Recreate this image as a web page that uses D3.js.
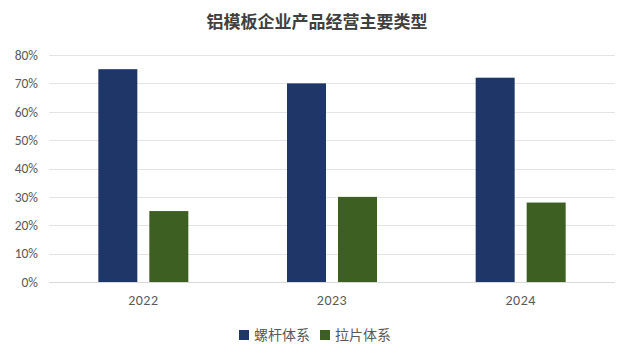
<!DOCTYPE html>
<html><head><meta charset="utf-8">
<script src="https://cdn.jsdelivr.net/npm/d3@7/dist/d3.min.js"></script>
<style>body{margin:0;background:#fff;}svg{display:block;}</style>
</head><body>
<script>
const categories = ["2022", "2023", "2024"];
const seriesNames = ["螺杆体系", "拉片体系"];
const screwValues = [0.75, 0.70, 0.72];
const pullValues = [0.25, 0.30, 0.28];
const yTicks = [0, 0.1, 0.2, 0.3, 0.4, 0.5, 0.6, 0.7, 0.8];
const colors = ["#1f3768", "#3d5f22"];
const titleText = "铝模板企业产品经营主要类型";

(function () {
const W = 634, H = 360;
const svg = d3.select("body").append("svg").attr("width", W).attr("height", H);
const font = "'Microsoft YaHei','Noto Sans CJK SC','DejaVu Sans',sans-serif";
const tickFont = "'Calibri','Carlito','Liberation Sans',sans-serif";
const pl = 49, pr = 615, pt = 55, pb = 282;

const x = d3.scaleBand().domain(categories).range([pl, pr]);
const y = d3.scaleLinear().domain([0, 0.8]).range([pb, pt]);

svg.append("text").attr("x", 317).attr("y", 28).attr("text-anchor", "middle")
  .attr("font-family", font).attr("font-size", 17).attr("font-weight", "bold")
  .attr("fill", "#404040").text(titleText);

svg.append("g").selectAll("line").data(yTicks.filter(d => d > 0)).join("line")
  .attr("x1", pl).attr("x2", pr).attr("y1", d => Math.round(y(d)) + 0.5).attr("y2", d => Math.round(y(d)) + 0.5)
  .attr("stroke", "#e4e4e4").attr("stroke-width", 1);

const yAxis = d3.axisLeft(y).tickValues(yTicks).tickFormat(d3.format(".0%")).tickSize(0).tickPadding(0);
const gy = svg.append("g").attr("transform", `translate(${pl - 11},0)`).call(yAxis);
gy.select(".domain").remove();
gy.selectAll("text").attr("font-family", tickFont).attr("font-size", 13.5).attr("fill", "#595959");

const series = [screwValues, pullValues];
const bw = 39, gap = 12;
series.forEach((vals, si) => {
  svg.append("g").selectAll("rect").data(categories).join("rect")
    .attr("x", d => x(d) + x.bandwidth() / 2 - (bw + gap / 2) + si * (bw + gap))
    .attr("y", (d, i) => y(vals[i]))
    .attr("width", bw)
    .attr("height", (d, i) => pb - y(vals[i]))
    .attr("fill", colors[si]);
});

svg.append("line").attr("x1", pl).attr("x2", pr).attr("y1", pb + 0.5).attr("y2", pb + 0.5)
  .attr("stroke", "#d9d9d9").attr("stroke-width", 1);

const xAxis = d3.axisBottom(x).tickSize(0).tickPadding(0);
const gx = svg.append("g").attr("transform", `translate(0,${pb + 13})`).call(xAxis);
gx.select(".domain").remove();
gx.selectAll("text").attr("font-family", tickFont).attr("font-size", 14).attr("fill", "#595959").attr("letter-spacing", 0.5);

const legendX = [239, 320];
seriesNames.forEach((n, i) => {
  svg.append("rect").attr("x", legendX[i]).attr("y", 330).attr("width", 10).attr("height", 10).attr("fill", colors[i]);
  svg.append("text").attr("x", legendX[i] + 15).attr("y", 340).attr("font-family", font).attr("font-size", 14)
    .attr("fill", "#595959").text(n);
});
})();
</script>
</body></html>
